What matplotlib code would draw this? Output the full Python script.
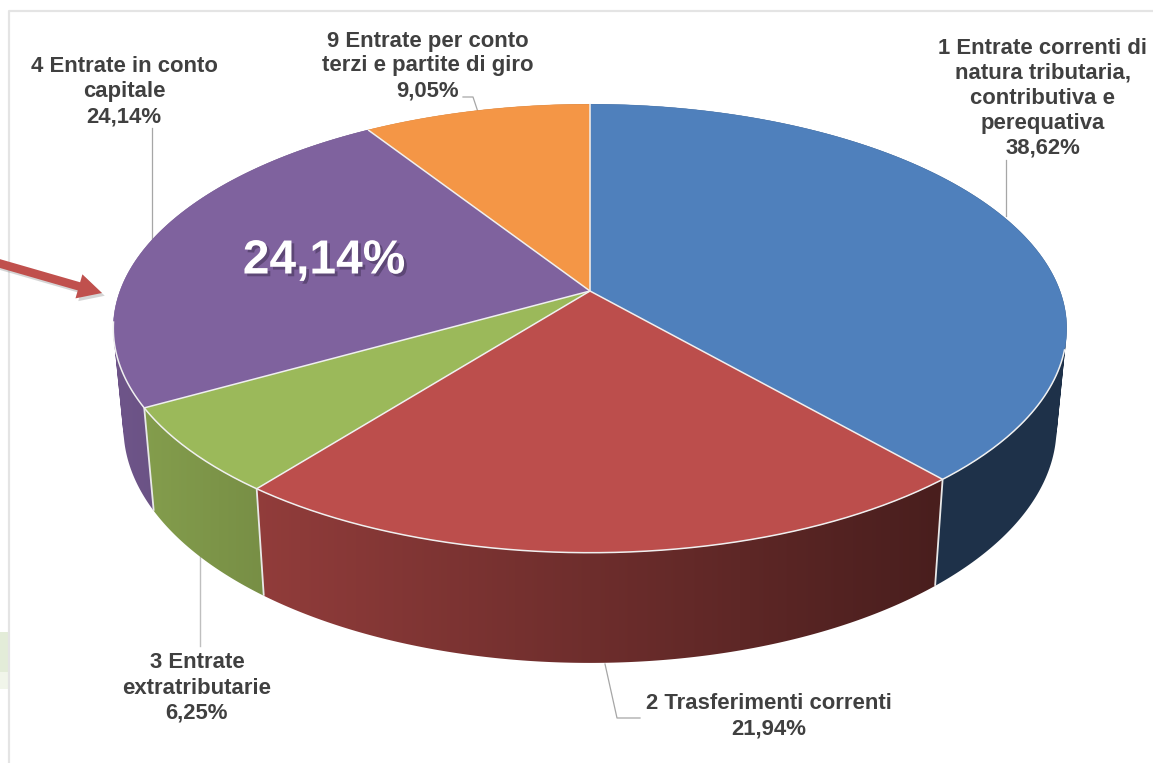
import matplotlib
matplotlib.use("Agg")
import matplotlib.pyplot as plt
import matplotlib.patheffects as pe
from matplotlib.patches import Polygon, Rectangle
from matplotlib.path import Path
import numpy as np

# ================= Data ===============
labels = ["1 Entrate correnti di\nnatura tributaria,\ncontributiva e\nperequativa",
          "2 Trasferimenti correnti",
          "3 Entrate\nextratributarie",
          "4 Entrate in conto\ncapitale",
          "9 Entrate per conto\nterzi e partite di giro"]
values = [38.62, 21.94, 6.25, 24.14, 9.05]
colors = ["#4F80BC", "#BC4E4C", "#9BB95A", "#7F629E", "#F49646"]

plt.rcParams['font.family'] = ['Liberation Sans', 'DejaVu Sans']

# ================= Functions ===============
# perspective view of the disc, angle in degrees clockwise from the top
K = 0.167
def project(deg, a, b, cy):
    t = np.radians(deg)
    x = np.sin(t)
    y = np.cos(t)
    w = 1 + K * y
    return 590 + a * x / w, cy - b * y / w

def top(deg):
    return project(deg, 470, 218, 291)

def bottom(deg):
    return project(deg, 460, 229, 388)

def side_path(a_start, a_end):
    # quads between both rims, all wound the same way so they add up in the clip
    angles = np.arange(a_start, a_end + 0.5, 0.5)
    angles[-1] = a_end
    verts = []
    codes = []
    for a0, a1 in zip(angles[:-1], angles[1:]):
        q = np.array([top(a0), top(a1), bottom(a1), bottom(a0)])
        x, y = q[:, 0], q[:, 1]
        area = np.sum(x * np.roll(y, -1) - np.roll(x, -1) * y)
        if area < 0:
            q = q[::-1]
        verts += list(q) + [q[0]]
        codes += [Path.MOVETO, Path.LINETO, Path.LINETO, Path.LINETO, Path.CLOSEPOLY]
    return Path(verts, codes)

# ================= Main ===============
fig = plt.figure(figsize=(11.53, 7.63), dpi=100)
ax = fig.add_axes([0, 0, 1, 1])

# slide background
ax.add_patch(Rectangle((0, 632), 9, 40, color="#E3ECD8", lw=0))
ax.add_patch(Rectangle((0, 672), 9, 17, color="#F1F5EA", lw=0))
ax.plot([1153, 9, 9], [11, 11, 763], color="#E4E4E4", lw=1.6, zorder=1)

edges = np.concatenate([[0], np.cumsum(values)]) * 3.6
edges[-1] = 360

# side of the cylinder, darker towards the right
grad_x = np.linspace(100, 1080, 491)
grad_f = np.interp(grad_x, [113, 264, 935, 1067], [0.87, 0.77, 0.39, 0.39])
for i in range(len(values)):
    rgb = np.array(matplotlib.colors.to_rgb(colors[i]))
    img = (grad_f[:, None] * rgb)[None, :, :]
    im = ax.imshow(img, extent=(100, 1080, 700, 100), aspect="auto", zorder=2,
                   interpolation="bilinear")
    im.set_clip_path(side_path(edges[i], edges[i + 1]), ax.transData)

# white seams on the side
for e in edges[1:4]:
    tx, ty = top(e)
    bx, by = bottom(e)
    ax.plot([tx, bx], [ty, by], color="#E8E8E8", lw=1.3, zorder=3, solid_capstyle="butt")

# top face
for i in range(len(values)):
    angles = np.linspace(edges[i], edges[i + 1], 200)
    xs, ys = top(angles)
    pts = np.column_stack([np.r_[590, xs], np.r_[291, ys]])
    ax.add_patch(Polygon(pts, closed=True, facecolor=colors[i], edgecolor=colors[i],
                         lw=0.3, zorder=4))

# white seams on the top face and along the front rim
for e in edges[:-1]:
    tx, ty = top(e)
    ax.plot([590, tx], [291, ty], color="#F0F0F0", lw=1.1, zorder=5, solid_capstyle="butt")
rim_x, rim_y = top(np.linspace(105, 262, 300))
ax.plot(rim_x, rim_y, color="#F0F0F0", lw=1.1, zorder=5)

# leader lines
leader = "#A6A6A6"
ax.plot([1006, 1006], [160, 216], color=leader, lw=0.9, zorder=1.5)
ax.plot([152, 152], [128, 239], color=leader, lw=0.9, zorder=1.5)
ax.plot([199.5, 199.5], [555, 646], color="#BFBFBF", lw=1.0, zorder=1.5)
ax.plot([605, 617, 640], [664, 718, 718], color=leader, lw=0.9, zorder=1.5)
ax.plot([463, 473, 478], [97, 97, 112], color=leader, lw=0.9, zorder=1.5)

# data labels
label_pos = [(1043, 98), (769, 716), (197, 688), (124, 91.5), (428, 66)]
for name, v, (lx, ly) in zip(labels, values, label_pos):
    txt = name + "\n" + f"{v:.2f}".replace(".", ",") + "%"
    ax.text(lx, ly, txt, ha="center", va="center", fontsize=15.9, fontweight="bold",
            color="#404040", linespacing=1.25, zorder=6)

# big callout
big = ax.text(324, 261, "24,14%", ha="center", va="center", fontsize=34.5, fontweight="bold",
              color="white", zorder=7)
big.set_path_effects([pe.withSimplePatchShadow(offset=(2, -2), shadow_rgbFace="#2B1F3A", alpha=0.4)])

# red arrow
arrow = ax.arrow(-2, 263, 104, 30, width=8.5, head_width=25, head_length=24,
                 length_includes_head=True, facecolor="#C0504D", edgecolor="none", zorder=7)
arrow.set_path_effects([pe.withSimplePatchShadow(offset=(2, -2), shadow_rgbFace="#777777", alpha=0.3)])

ax.set_xlim(0, 1153)
ax.set_ylim(763, 0)
ax.axis("off")

fig.savefig("out.png", dpi=100)
